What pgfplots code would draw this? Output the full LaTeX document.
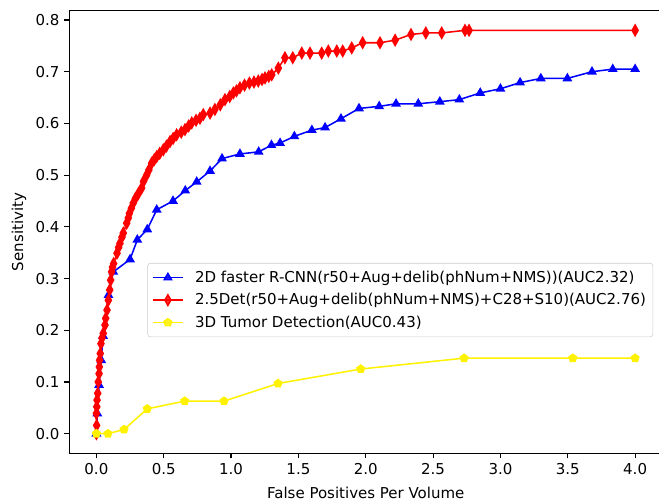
\documentclass[border=0pt]{standalone}
\usepackage{pgfplots}
\pgfplotsset{compat=1.18}
\usepackage{fontspec}
\setmainfont{DejaVu Sans}

\begin{document}
\begin{tikzpicture}
\begin{axis}[
  scale only axis,
  width=426.7bp, height=318.7bp,
  xmin=-0.2, xmax=4.2, ymin=-0.038, ymax=0.818,
  axis line style={line width=0.85bp, black},
  tick align=outside, xtick pos=lower, ytick pos=left,
  major tick length=3.7bp,
  every tick/.style={line width=0.85bp, black},
  xtick={0,0.5,1,1.5,2,2.5,3,3.5,4},
  ytick={0,0.1,0.2,0.3,0.4,0.5,0.6,0.7,0.8},
  /pgf/number format/assume math mode=true,
  xticklabel style={/pgf/number format/.cd, fixed, fixed zerofill, precision=1},
  yticklabel style={/pgf/number format/.cd, fixed, fixed zerofill, precision=1},
  tick label style={font=\fontsize{10.8bp}{13bp}\selectfont},
  label style={font=\fontsize{10.8bp}{13bp}\selectfont},
  xlabel={False Positives Per Volume},
  ylabel={Sensitivity},
  xlabel style={at={(axis description cs:0.5,-0.103)}, anchor=base},
  ylabel style={at={(axis description cs:-0.0783,0.5)}, anchor=base, rotate=0},
  legend cell align=left,
  legend style={at={(axis description cs:0.985,0.430)}, anchor=north east,
    draw=black!20, rounded corners=2bp, fill=white, fill opacity=0.8, text opacity=1,
    font=\fontsize{10.8bp}{13bp}\selectfont, row sep=2.5bp, inner xsep=3bp, inner ysep=3.5bp,
    /tikz/every odd column/.append style={column sep=6bp}},
  legend image code/.code={\draw[mark repeat=2,mark phase=2,#1] plot coordinates {(0bp,0bp) (11bp,0bp) (22bp,0bp)};},
]
\addplot[color=blue, line width=1.1bp, mark=triangle*, mark size=3.0bp, mark options={solid, fill=blue}] coordinates {
(0.000,0.000) (0.007,0.039) (0.020,0.094) (0.036,0.142) (0.050,0.189)
(0.090,0.268) (0.126,0.313) (0.250,0.337) (0.304,0.375) (0.378,0.395)
(0.448,0.433) (0.569,0.450) (0.660,0.470) (0.745,0.487) (0.844,0.508)
(0.933,0.532) (1.066,0.541) (1.205,0.545) (1.300,0.558) (1.364,0.562)
(1.470,0.575) (1.600,0.587) (1.698,0.592) (1.816,0.609) (1.950,0.629)
(2.100,0.633) (2.225,0.638) (2.390,0.638) (2.550,0.642) (2.695,0.646)
(2.850,0.659) (3.000,0.667) (3.146,0.679) (3.300,0.687) (3.497,0.687)
(3.680,0.700) (3.834,0.705) (4.000,0.705)
};
\addlegendentry{2D faster R-CNN(r50+Aug+delib(phNum+NMS))(AUC2.32)}
\addplot[color=red, line width=1.1bp, mark=diamond*, mark size=3.8bp, mark options={solid, fill=red, xscale=0.75}] coordinates {
(0.000,0.000) (0.002,0.016) (0.000,0.039) (0.003,0.052) (0.005,0.065)
(0.010,0.078) (0.014,0.100) (0.020,0.116) (0.022,0.129) (0.024,0.142)
(0.029,0.155) (0.034,0.174) (0.042,0.185) (0.051,0.194) (0.064,0.210)
(0.069,0.223) (0.079,0.239) (0.089,0.258) (0.099,0.278) (0.106,0.297)
(0.113,0.313) (0.120,0.322) (0.128,0.329) (0.153,0.349) (0.165,0.360)
(0.175,0.368) (0.190,0.380) (0.200,0.388) (0.225,0.407) (0.237,0.417)
(0.245,0.426) (0.260,0.436) (0.274,0.446) (0.290,0.455) (0.311,0.464)
(0.336,0.475) (0.350,0.488) (0.373,0.500) (0.390,0.510) (0.410,0.523)
(0.430,0.530) (0.448,0.536) (0.470,0.542) (0.497,0.549) (0.520,0.556)
(0.547,0.565) (0.570,0.571) (0.596,0.578) (0.630,0.583) (0.658,0.588)
(0.685,0.595) (0.708,0.601) (0.740,0.606) (0.769,0.610) (0.794,0.617)
(0.844,0.620) (0.880,0.627) (0.920,0.636) (0.955,0.646) (0.990,0.652)
(1.017,0.659) (1.040,0.663) (1.066,0.669) (1.100,0.674) (1.136,0.678)
(1.170,0.680) (1.202,0.682) (1.230,0.685) (1.252,0.688) (1.280,0.691)
(1.302,0.694) (1.351,0.707) (1.400,0.727) (1.458,0.727) (1.525,0.736)
(1.586,0.736) (1.673,0.736) (1.722,0.740) (1.785,0.740) (1.829,0.740)
(1.896,0.746) (1.977,0.756) (2.106,0.756) (2.218,0.761) (2.336,0.772)
(2.446,0.775) (2.564,0.775) (2.737,0.780) (2.767,0.780) (4.000,0.780)
};
\addlegendentry{2.5Det(r50+Aug+delib(phNum+NMS)+C28+S10)(AUC2.76)}
\addplot[color=yellow, line width=1.1bp, mark=pentagon*, mark size=2.8bp, mark options={solid, fill=yellow}] coordinates {
(0.000,0.000) (0.086,0.000) (0.205,0.008) (0.378,0.048) (0.656,0.063)
(0.948,0.063) (1.349,0.097) (1.963,0.125) (2.730,0.146) (3.537,0.146)
(4.000,0.146)
};
\addlegendentry{3D Tumor Detection(AUC0.43)}
\end{axis}
\pgfresetboundingbox
\path (-50bp,-36.4bp) rectangle (424.5bp,326.4bp);
\end{tikzpicture}
\end{document}
